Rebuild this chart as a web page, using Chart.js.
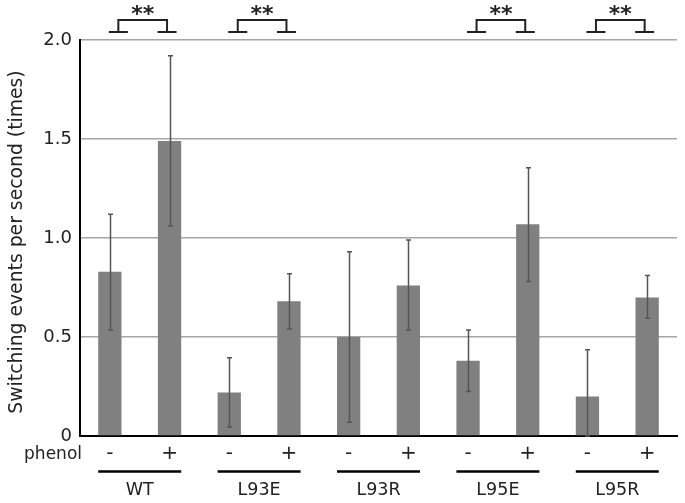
<!DOCTYPE html>
<html>
<head>
<meta charset="utf-8">
<script src="https://cdn.jsdelivr.net/npm/chart.js@4/dist/chart.umd.min.js"></script>
<style>
html,body{margin:0;padding:0;background:#fff;}
#wrap{width:685px;height:503px;position:relative;}
</style>
</head>
<body>
<div id="wrap"><canvas id="c" width="685" height="503"></canvas></div>
<script>
// ---- data ----
const phenolLabels = ['-', '+', '-', '+', '-', '+', '-', '+', '-', '+'];
const groups = ['WT', 'L93E', 'L93R', 'L95E', 'L95R'];
const means = [0.83, 1.49, 0.22, 0.68, 0.50, 0.76, 0.38, 1.07, 0.20, 0.70];
const errUpper = [1.12, 1.92, 0.395, 0.82, 0.93, 0.99, 0.535, 1.355, 0.435, 0.81];
const errLower = [0.535, 1.06, 0.045, 0.54, 0.07, 0.535, 0.225, 0.78, 0.0, 0.595];
const significant = [true, true, false, true, true];
const sigLabel = '**';
const yTicks = [0, 0.5, 1.0, 1.5, 2.0];
const yTitle = 'Switching events per second (times)';
const rowLabel = 'phenol';

const FONT = '"DejaVu Sans", Verdana, sans-serif';

const overlay = {
  id: 'overlay',
  afterDatasetsDraw(chart) {
    const ctx = chart.ctx;
    const x = chart.scales.x, y = chart.scales.y;
    const meta = chart.getDatasetMeta(0);
    ctx.save();
    // error bars
    ctx.strokeStyle = '#555';
    ctx.lineWidth = 1.5;
    for (let i = 0; i < means.length; i++) {
      const cx = Math.round(x.getPixelForValue(i)) + 0.5;
      const yt = y.getPixelForValue(errUpper[i]);
      const yb = y.getPixelForValue(errLower[i]);
      ctx.beginPath();
      ctx.moveTo(cx, yt); ctx.lineTo(cx, yb);
      ctx.moveTo(cx - 2.5, yt); ctx.lineTo(cx + 2.5, yt);
      ctx.moveTo(cx - 2.5, yb); ctx.lineTo(cx + 2.5, yb);
      ctx.stroke();
    }
    // group underlines and labels
    ctx.fillStyle = '#222';
    ctx.strokeStyle = '#000';
    ctx.lineWidth = 2.5;
    ctx.font = '17.5px ' + FONT;
    ctx.textAlign = 'center';
    ctx.textBaseline = 'middle';
    for (let g = 0; g < groups.length; g++) {
      const b1 = meta.data[2 * g], b2 = meta.data[2 * g + 1];
      const l = b1.x - b1.width / 2, r = b2.x + b2.width / 2;
      ctx.beginPath();
      ctx.moveTo(l, 471.5); ctx.lineTo(r, 471.5);
      ctx.stroke();
      ctx.fillText(groups[g], (l + r) / 2, 490);
    }
    // significance brackets
    ctx.strokeStyle = '#222';
    ctx.lineWidth = 2;
    ctx.font = 'bold 22px ' + FONT;
    const top = y.top;
    for (let g = 0; g < groups.length; g++) {
      if (!significant[g]) continue;
      const c1 = x.getPixelForValue(2 * g), c2 = x.getPixelForValue(2 * g + 1);
      const vL = c1 + 8.5, vR = c2 - 2.5;
      const fy = top - 8, by = top - 20;
      ctx.beginPath();
      ctx.moveTo(vL - 9.5, fy); ctx.lineTo(vL + 9.5, fy);
      ctx.moveTo(vL, fy); ctx.lineTo(vL, by); ctx.lineTo(vR, by); ctx.lineTo(vR, fy);
      ctx.moveTo(vR - 9.5, fy); ctx.lineTo(vR + 9.5, fy);
      ctx.stroke();
      ctx.fillText(sigLabel, (vL + vR) / 2, top - 25);
    }
    // row label
    ctx.font = '17px ' + FONT;
    ctx.fillStyle = '#222';
    ctx.textAlign = 'right';
    ctx.fillText(rowLabel, 82, 455);
    // y title
    ctx.translate(17, 242);
    ctx.rotate(-Math.PI / 2);
    ctx.textAlign = 'center';
    ctx.font = '18.8px ' + FONT;
    ctx.fillText(yTitle, 0, 0);
    ctx.restore();
  }
};

new Chart(document.getElementById('c'), {
  type: 'bar',
  data: {
    labels: phenolLabels,
    datasets: [{
      data: means,
      backgroundColor: '#808080',
      borderWidth: 0,
      barPercentage: 0.39,
      categoryPercentage: 1.0
    }]
  },
  options: {
    responsive: false,
    animation: false,
    devicePixelRatio: 1,
    layout: { padding: { top: 40, right: 8, bottom: 0, left: 0 } },
    plugins: { legend: { display: false }, tooltip: { enabled: false } },
    scales: {
      x: {
        grid: { display: false, drawTicks: false },
        border: { display: true, color: '#000', width: 2 },
        ticks: { color: '#222', font: { family: FONT, size: 20 }, padding: 6, maxRotation: 0 },
        afterFit(s) { s.height = 67; }
      },
      y: {
        min: 0, max: 2,
        grid: { color: '#a6a6a6', lineWidth: 1.5, drawTicks: false },
        border: { display: true, color: '#000', width: 2 },
        afterBuildTicks(s) { s.ticks = yTicks.map(v => ({ value: v })); },
        ticks: {
          color: '#222', font: { family: FONT, size: 18 }, padding: 8,
          callback: v => (v === 0 ? '0' : v.toFixed(1))
        },
        afterFit(s) { s.width = 80; }
      }
    }
  },
  plugins: [overlay]
});
</script>
</body>
</html>
